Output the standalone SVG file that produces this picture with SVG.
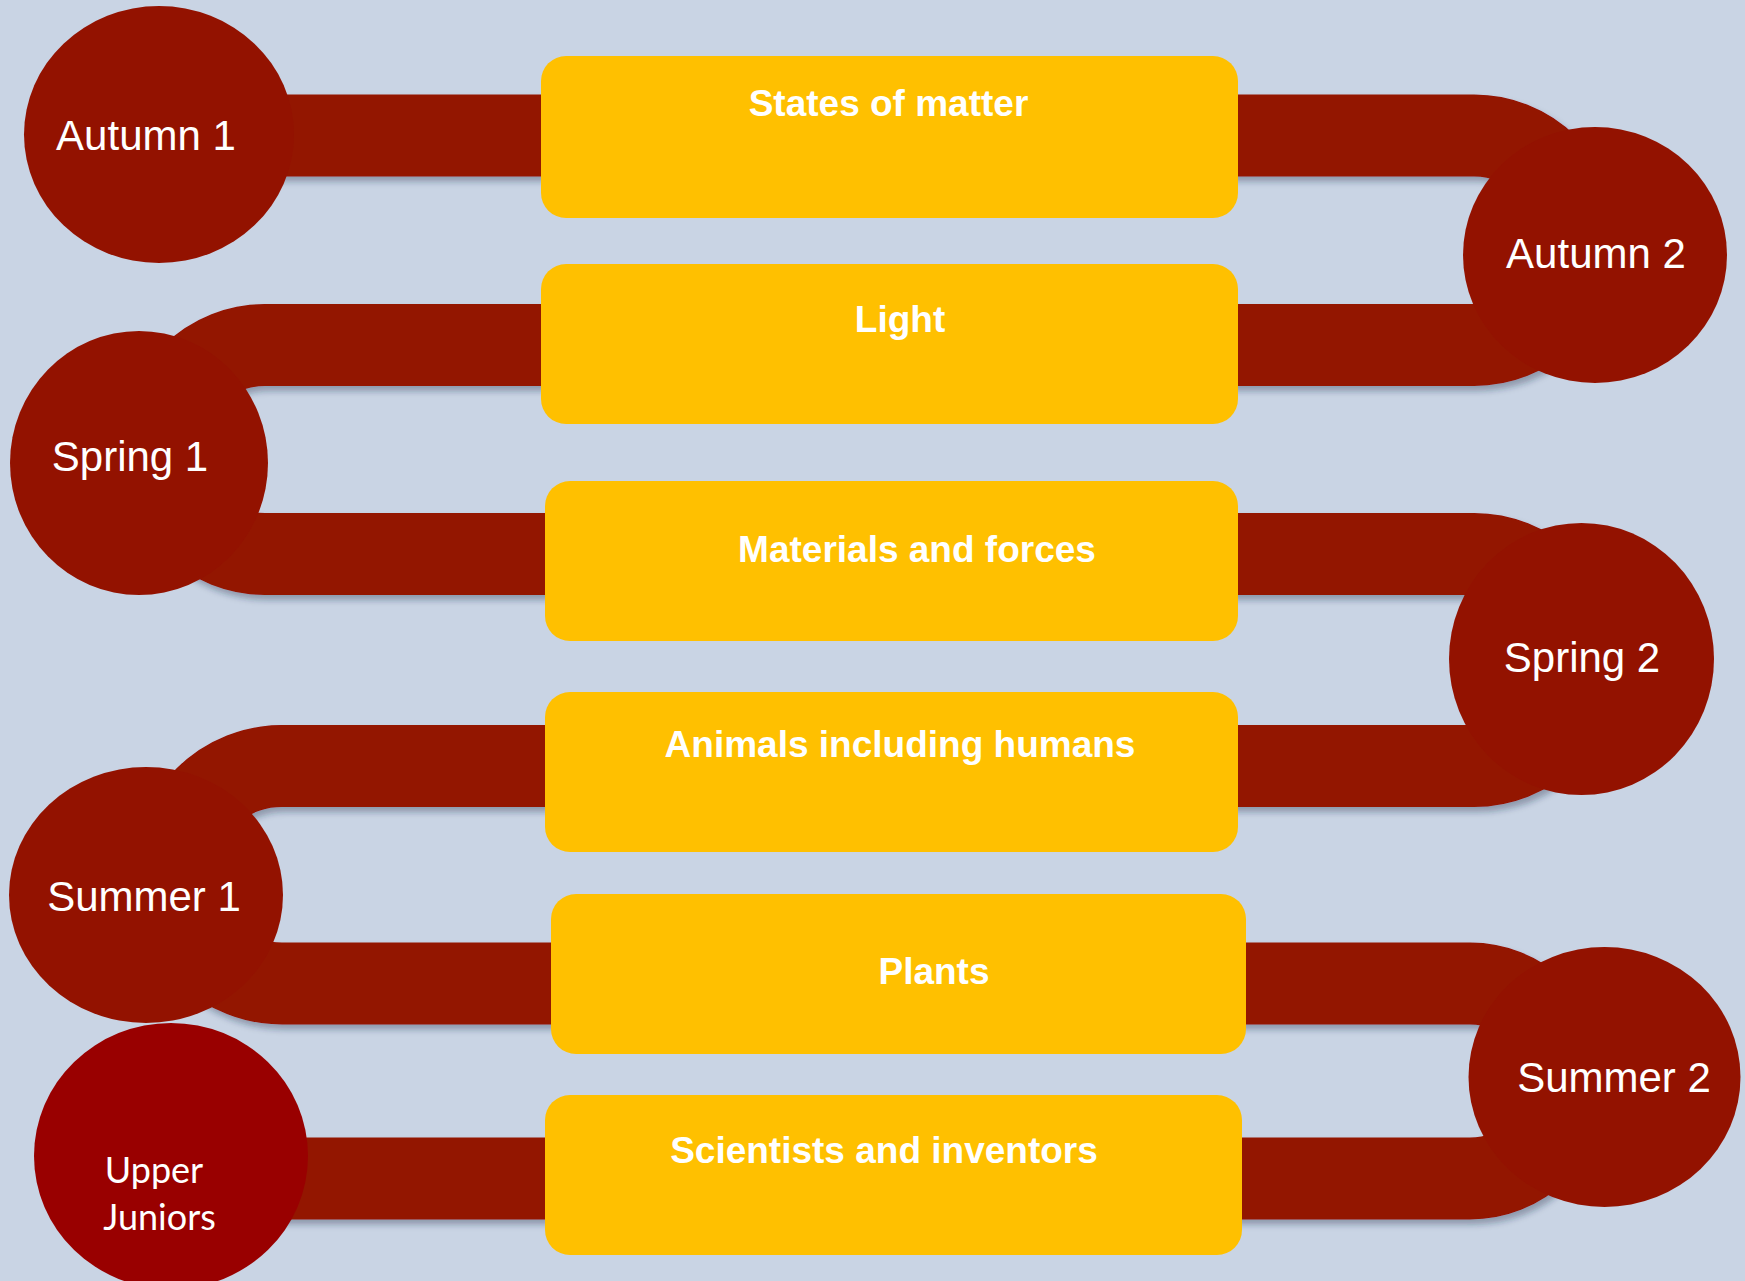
<svg xmlns="http://www.w3.org/2000/svg" width="1745" height="1281" viewBox="0 0 1745 1281">
<defs>
<filter id="sh" x="-10%" y="-20%" width="120%" height="140%">
<feDropShadow dx="3" dy="5" stdDeviation="3" flood-color="#1c2a40" flood-opacity="0.35"/>
</filter>
<style>
.bar{fill:none;stroke:#931200;stroke-width:82}
.term{fill:#931200}
.box{fill:#FFC000}
.tl{font-family:"Liberation Sans",Arial,sans-serif;font-size:42px;fill:#ffffff;text-anchor:middle}
.bl{font-family:"Liberation Sans",Arial,sans-serif;font-size:37px;font-weight:bold;fill:#ffffff;text-anchor:middle}
.uj{font-family:Lato,"Open Sans",sans-serif;font-size:36px;fill:#ffffff;text-anchor:middle}
</style>
</defs>
<rect width="1745" height="1281" fill="#C9D4E4"/>
<g id="connectors" filter="url(#sh)">
<path class="bar" d="M 200 135.5 H 560"/>
<path class="bar" d="M 1220 135.5 H 1474 A 104.75 104.75 0 0 1 1474 345 H 1220"/>
<path class="bar" d="M 560 345 H 265 A 104.5 104.5 0 0 0 265 554 H 560"/>
<path class="bar" d="M 1220 554 H 1474 A 106 106 0 0 1 1474 766 H 1220"/>
<path class="bar" d="M 560 766 H 282 A 108.75 108.75 0 0 0 282 983.5 H 560"/>
<path class="bar" d="M 1225 983.5 H 1470 A 97.5 97.5 0 0 1 1470 1178.5 H 1225"/>
<path class="bar" d="M 250 1178.5 H 560"/>
</g>
<g id="autumn1"><ellipse class="term" cx="159" cy="134.5" rx="135" ry="128.5"/><text class="tl" x="146" y="150">Autumn 1</text></g>
<g id="autumn2"><ellipse class="term" cx="1595" cy="255" rx="132" ry="128"/><text class="tl" x="1596" y="268">Autumn 2</text></g>
<g id="spring1"><ellipse class="term" cx="139" cy="463" rx="129" ry="132"/><text class="tl" x="130" y="471">Spring 1</text></g>
<g id="spring2"><ellipse class="term" cx="1581.5" cy="659" rx="132.5" ry="136"/><text class="tl" x="1582" y="672">Spring 2</text></g>
<g id="summer1"><ellipse class="term" cx="146" cy="895" rx="137" ry="128"/><text class="tl" x="144" y="911">Summer 1</text></g>
<g id="summer2"><ellipse class="term" cx="1604.5" cy="1077" rx="136" ry="130"/><text class="tl" x="1614" y="1092">Summer 2</text></g>
<g id="upperjuniors"><ellipse cx="171" cy="1156" rx="137" ry="133" fill="#990000"/><text class="uj" x="154" y="1183">Upper</text><text class="uj" x="159.5" y="1230">Juniors</text></g>
<g id="box1"><rect class="box" x="541" y="56" width="697" height="162" rx="25"/><text class="bl" x="888.5" y="116">States of matter</text></g>
<g id="box2"><rect class="box" x="541" y="264" width="697" height="160" rx="25"/><text class="bl" x="900" y="332">Light</text></g>
<g id="box3"><rect class="box" x="545" y="481" width="693" height="160" rx="25"/><text class="bl" x="917" y="562">Materials and forces</text></g>
<g id="box4"><rect class="box" x="545" y="692" width="693" height="160" rx="25"/><text class="bl" x="900" y="757">Animals including humans</text></g>
<g id="box5"><rect class="box" x="551" y="894" width="695" height="160" rx="25"/><text class="bl" x="934" y="984">Plants</text></g>
<g id="box6"><rect class="box" x="545" y="1095" width="697" height="160" rx="25"/><text class="bl" x="884" y="1163">Scientists and inventors</text></g>
</svg>
